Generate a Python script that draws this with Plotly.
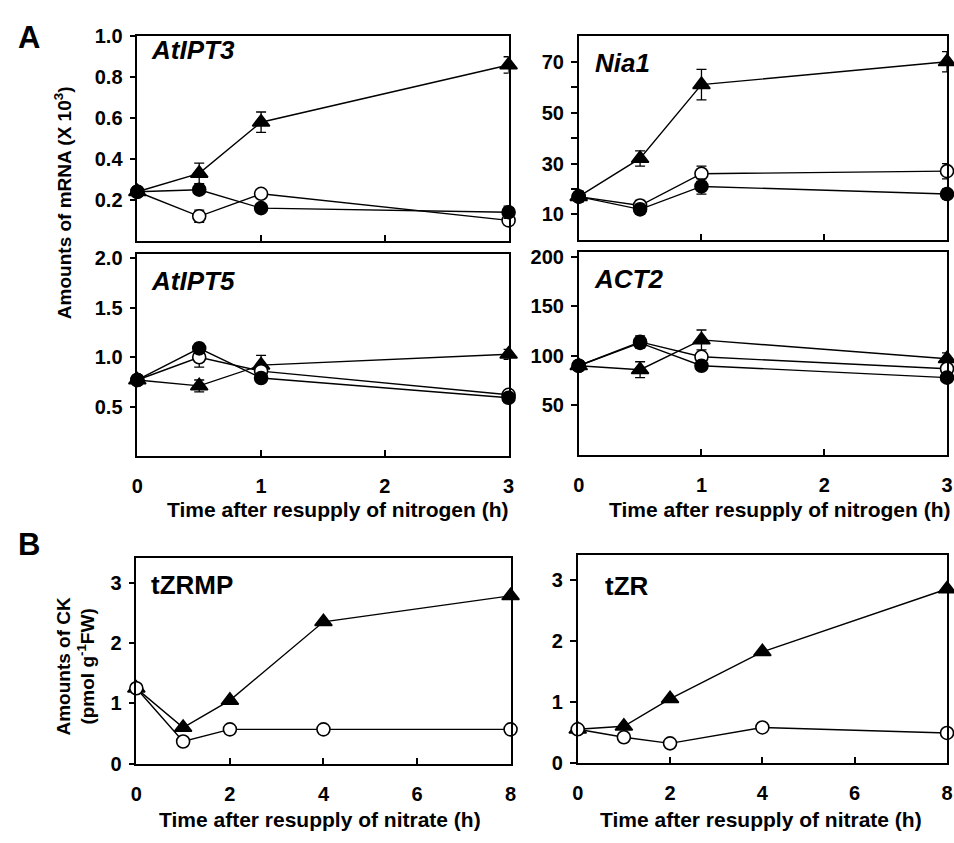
import plotly.graph_objects as go

W, H = 954, 843

# ---- data ----
t_n = [0, 0.5, 1, 3]
ipt3_tri = [0.24, 0.33, 0.58, 0.86]; ipt3_tri_e = [0.01, 0.05, 0.05, 0.04]
ipt3_fill = [0.24, 0.25, 0.16, 0.14]; ipt3_fill_e = [0.02, 0.02, 0.02, 0.03]
ipt3_open = [0.24, 0.12, 0.23, 0.10]; ipt3_open_e = [0.01, 0.03, 0.02, 0.02]

nia1_tri = [17, 32, 61, 70]; nia1_tri_e = [2, 3, 6, 4]
nia1_fill = [17, 12, 21, 18]; nia1_fill_e = [2, 2, 3, 2]
nia1_open = [17, 13.5, 26, 27]; nia1_open_e = [2, 2, 3, 3]

ipt5_tri = [0.77, 0.71, 0.92, 1.03]; ipt5_tri_e = [0.02, 0.06, 0.10, 0.05]
ipt5_fill = [0.77, 1.09, 0.79, 0.59]; ipt5_fill_e = [0.02, 0.05, 0.04, 0.05]
ipt5_open = [0.77, 1.00, 0.86, 0.62]; ipt5_open_e = [0.02, 0.10, 0.05, 0.04]

act2_tri = [90, 86, 116, 97]; act2_tri_e = [4, 8, 10, 6]
act2_fill = [90, 113, 90, 78]; act2_fill_e = [4, 5, 3, 4]
act2_open = [90, 114, 99, 87]; act2_open_e = [4, 6, 4, 4]

t_no3 = [0, 1, 2, 4, 8]
tzrmp_tri = [1.25, 0.60, 1.05, 2.35, 2.78]
tzrmp_open = [1.25, 0.37, 0.57, 0.57, 0.57]
tzr_tri = [0.55, 0.60, 1.05, 1.82, 2.85]
tzr_open = [0.55, 0.42, 0.32, 0.58, 0.49]

FONT = "Liberation Sans"

def px_x(a, b):
    return [a / W, b / W]

def px_y(top, bottom):
    return [1 - bottom / H, 1 - top / H]

panels = {
    1: dict(x=px_x(133, 509), y=px_y(26, 236)),
    2: dict(x=px_x(580, 953), y=px_y(26, 235)),
    3: dict(x=px_x(133, 509), y=px_y(249, 457)),
    4: dict(x=px_x(580, 953), y=px_y(247, 456)),
    5: dict(x=px_x(132, 511), y=px_y(562, 773)),
    6: dict(x=px_x(579, 953), y=px_y(559, 772)),
}

fig = go.Figure()

def add_series(k, x, y, err, symbol, fill):
    ax = "" if k == 1 else str(k)
    kw = dict(
        x=x, y=y, mode="lines+markers", showlegend=False,
        xaxis="x" + ax, yaxis="y" + ax, cliponaxis=False,
        line=dict(color="black", width=1.4),
        marker=dict(symbol=symbol, size=15 if "triangle" in symbol else 13,
                    color="black" if fill else "white",
                    line=dict(color="black", width=1.6)),
    )
    if err is not None:
        kw["error_y"] = dict(type="data", array=err, visible=True,
                             color="black", thickness=1.3, width=5)
    fig.add_trace(go.Scatter(**kw))

for k, (tri, tri_e, op, op_e, fi, fi_e) in {
    1: (ipt3_tri, ipt3_tri_e, ipt3_open, ipt3_open_e, ipt3_fill, ipt3_fill_e),
    2: (nia1_tri, nia1_tri_e, nia1_open, nia1_open_e, nia1_fill, nia1_fill_e),
    3: (ipt5_tri, ipt5_tri_e, ipt5_open, ipt5_open_e, ipt5_fill, ipt5_fill_e),
    4: (act2_tri, act2_tri_e, act2_open, act2_open_e, act2_fill, act2_fill_e),
}.items():
    add_series(k, t_n, tri, tri_e, "triangle-up", True)
    add_series(k, t_n, op, op_e, "circle", False)
    add_series(k, t_n, fi, fi_e, "circle", True)

add_series(5, t_no3, tzrmp_tri, None, "triangle-up", True)
add_series(5, t_no3, tzrmp_open, None, "circle", False)
add_series(6, t_no3, tzr_tri, None, "triangle-up", True)
add_series(6, t_no3, tzr_open, None, "circle", False)

tickfont = dict(family=FONT, size=20, color="black", weight="bold")

def xaxis(k, rng, vals, labels):
    return dict(domain=panels[k]["x"], range=rng, anchor="y" + ("" if k == 1 else str(k)),
                showline=True, mirror=True, linecolor="black", linewidth=1.6,
                ticks="inside", ticklen=6, tickwidth=1.5, tickcolor="black",
                tickvals=vals, showticklabels=labels, ticklabelstandoff=11,
                showgrid=False, zeroline=False, tickfont=tickfont)

def yaxis(k, rng, vals, text, minor_vals=None):
    d = dict(domain=panels[k]["y"], range=rng, anchor="x" + ("" if k == 1 else str(k)),
             showline=True, mirror=True, linecolor="black", linewidth=1.6,
             ticks="outside", ticklen=6, tickwidth=1.5, tickcolor="black",
             tickvals=vals, ticktext=text, ticklabelstandoff=3,
             showgrid=False, zeroline=False, tickfont=tickfont)
    if minor_vals:
        d["minor"] = dict(tickvals=minor_vals, ticks="outside", ticklen=6,
                          tickwidth=1.5, tickcolor="black", showgrid=False)
    return d

layout = {}
layout["xaxis"] = xaxis(1, [0, 3], [0, 1, 2, 3], False)
layout["xaxis2"] = xaxis(2, [0, 3], [0, 1, 2, 3], False)
layout["xaxis3"] = xaxis(3, [0, 3], [0, 1, 2, 3], True)
layout["xaxis4"] = xaxis(4, [0, 3], [0, 1, 2, 3], True)
layout["xaxis5"] = xaxis(5, [0, 8], [0, 2, 4, 6, 8], True)
layout["xaxis6"] = xaxis(6, [0, 8], [0, 2, 4, 6, 8], True)

layout["yaxis"] = yaxis(1, [0, 1.0], [0.2, 0.4, 0.6, 0.8, 1.0], ["0.2", "0.4", "0.6", "0.8", "1.0"])
layout["yaxis2"] = yaxis(2, [0, 80], [10, 30, 50, 70], ["10", "30", "50", "70"], [20, 40, 60])
layout["yaxis3"] = yaxis(3, [0, 2.05], [0.5, 1.0, 1.5, 2.0], ["0.5", "1.0", "1.5", "2.0"])
layout["yaxis4"] = yaxis(4, [0, 205], [50, 100, 150, 200], ["50", "100", "150", "200"])
layout["yaxis5"] = yaxis(5, [0, 3.4], [0, 1, 2, 3], ["0", "1", "2", "3"])
layout["yaxis6"] = yaxis(6, [0, 3.4], [0, 1, 2, 3], ["0", "1", "2", "3"])

def ann(text, x, y, size, italic=False, angle=0, xanchor="center"):
    t = "<b><i>" + text + "</i></b>" if italic else "<b>" + text + "</b>"
    return dict(text=t, x=x / W, y=1 - y / H, xref="paper", yref="paper",
                xanchor=xanchor, yanchor="middle", showarrow=False, textangle=angle,
                font=dict(family=FONT, size=size, color="black"))

annotations = [
    ann("A", 10, 27, 31, xanchor="left"),
    ann("B", 10, 548, 31, xanchor="left"),
    ann("AtIPT3", 145, 40, 26, italic=True, xanchor="left"),
    ann("Nia1", 594, 53, 26, italic=True, xanchor="left"),
    ann("AtIPT5", 145, 277, 26, italic=True, xanchor="left"),
    ann("ACT2", 593, 275, 26, italic=True, xanchor="left"),
    ann("tZRMP", 145, 589, 26, xanchor="left"),
    ann("tZR", 605, 590, 26, xanchor="left"),
    ann("Time after resupply of nitrogen (h)", 336, 512, 21),
    ann("Time after resupply of nitrogen (h)", 783, 512, 21),
    ann("Time after resupply of nitrate (h)", 318, 830, 21),
    ann("Time after resupply of nitrate (h)", 765, 830, 21),
    ann("Amounts of mRNA (X 10<sup>3</sup>)", 58, 197, 19, angle=-90),
    ann("Amounts of CK<br>(pmol g<sup>-1</sup>FW)", 71, 673, 19, angle=-90),
]

fig.update_layout(
    width=W, height=H, margin=dict(l=0, r=0, t=0, b=0),
    paper_bgcolor="white", plot_bgcolor="white",
    annotations=annotations, **layout,
)

fig.write_html("out.html")
